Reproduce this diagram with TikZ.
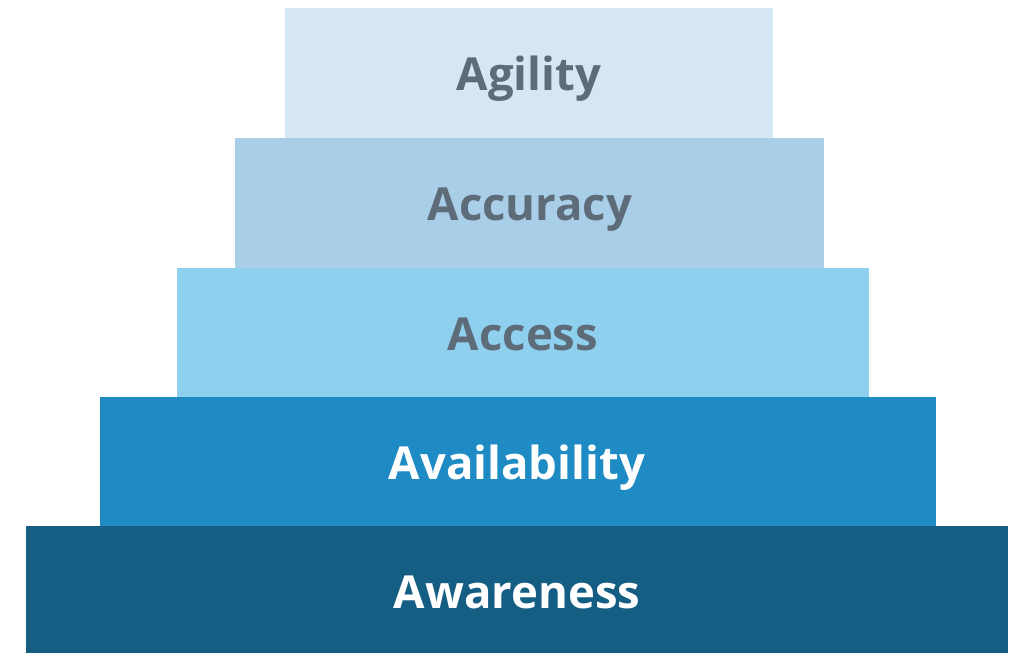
\documentclass[tikz,border=0pt]{standalone}
\usepackage{fontspec}
\setmainfont{Open Sans}
\definecolor{cAgi}{HTML}{D5E7F3}
\definecolor{cAcc}{HTML}{A9CFE8}
\definecolor{cAcs}{HTML}{8FD0EE}
\definecolor{cAva}{HTML}{1F8BC5}
\definecolor{cAwa}{HTML}{155E83}
\definecolor{cGrey}{HTML}{5E6B78}
\begin{document}
\begin{tikzpicture}[x=1pt,y=-1pt,
  lvl/.style={anchor=base,font=\fontsize{45.5}{50}\selectfont\bfseries,inner sep=0pt},
  dark/.style={lvl,text=cGrey},
  light/.style={lvl,text=white}]
\useasboundingbox (0,0) rectangle (1018,653);
\fill[cAgi] (285,8) rectangle (773,138);
\fill[cAcc] (235,138) rectangle (824,268);
\fill[cAcs] (177,268) rectangle (869,397);
\fill[cAva] (100,397) rectangle (936,526);
\fill[cAwa] (26,526) rectangle (1008,653);
\node[dark] (agility) at (529,90) {Agility};
\node[dark] (accuracy) at (530,220) {Accuracy};
\node[dark] (access) at (523,350) {Access};
\node[light] (availability) at (517,479) {Availability};
\node[light] (awareness) at (517,608) {Awareness};
\end{tikzpicture}
\end{document}
